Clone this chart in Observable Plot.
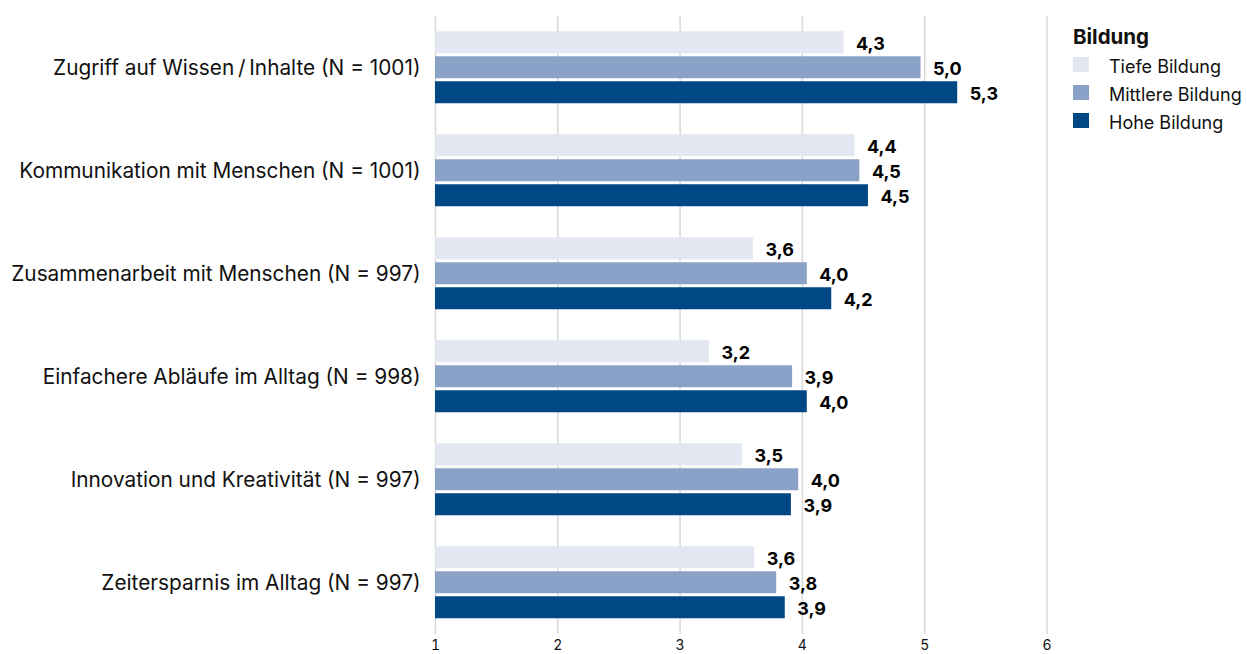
<!DOCTYPE html>
<html>
<head>
<meta charset="utf-8">
<script src="https://cdn.jsdelivr.net/npm/d3@7"></script>
<script src="https://cdn.jsdelivr.net/npm/@observablehq/plot@0.6"></script>
<style>
  body { margin: 0; background: #fff; font-family: Inter, "Liberation Sans", sans-serif; }
  #wrap { position: relative; width: 1247px; height: 654px; }
  #legend { position: absolute; left: 1073px; top: 25px; color: #111; }
  #legend .title { font-weight: 700; font-size: 20.5px; line-height: 24px; margin-bottom: 1.5px; }
  #legend .item { display: flex; align-items: center; height: 28.2px; font-size: 18px; }
  #legend .item span:last-child { position: relative; top: 1.5px; }
  #legend .sw { width: 16px; height: 15px; margin-right: 20px; flex: none; }
  #chart svg [aria-label^="x-axis"] text { font-size: 14px; fill: #111; }
  #chart svg [aria-label^="fy-axis"] text { font-size: 20.8px; fill: #111; }
</style>
</head>
<body>
<div id="wrap">
  <div id="chart"></div>
  <div id="legend"></div>
</div>
<script>
// Wahrgenommener Nutzen nach Bildungsniveau (Mittelwerte, Skala 1–6)
const categories = [
  "Zugriff auf Wissen\u2009/\u2009Inhalte (N = 1001)",
  "Kommunikation mit Menschen (N = 1001)",
  "Zusammenarbeit mit Menschen (N = 997)",
  "Einfachere Abläufe im Alltag (N = 998)",
  "Innovation und Kreativität (N = 997)",
  "Zeitersparnis im Alltag (N = 997)"
];
const levels = ["Tiefe Bildung", "Mittlere Bildung", "Hohe Bildung"];
const tiefe    = [4.34, 4.43, 3.60, 3.24, 3.51, 3.61];
const mittlere = [4.97, 4.47, 4.04, 3.92, 3.97, 3.79];
const hohe     = [5.27, 4.54, 4.24, 4.04, 3.91, 3.86];
const xTicks = [1, 2, 3, 4, 5, 6];
const colors = ["#e3e7f1", "#8aa2c7", "#004884"];

const series = [tiefe, mittlere, hohe];
const rows = categories.flatMap((category, i) =>
  levels.map((level, j) => ({ category, level, value: series[j][i] }))
);

const fmt = v => v.toFixed(1).replace(".", ",");

const chart = Plot.plot({
  width: 1247,
  height: 654,
  marginLeft: 435,
  marginRight: 200.5,
  marginTop: 14.75,
  marginBottom: 18,
  style: { fontFamily: "Inter, 'Liberation Sans', sans-serif", color: "#111", background: "#fff" },
  facet: { data: rows, y: "category" },
  fy: { domain: categories, padding: 0, axis: "left", label: null, tickSize: 0, tickPadding: 15 },
  y: { domain: levels, axis: null, paddingInner: 0.137, paddingOuter: 0.598 },
  x: { domain: [1, 6], ticks: xTicks, tickFormat: d => String(d), tickSize: 0, tickPadding: 6, label: null },
  color: { domain: levels, range: colors },
  marks: [
    Plot.ruleX(xTicks, { x: d => d, stroke: "#d8d8d8", strokeWidth: 1.5 }),
    Plot.barX(rows, { x1: 1, x2: "value", y: "level", fill: "level" }),
    Plot.text(rows, {
      x: "value", y: "level", text: d => fmt(d.value),
      textAnchor: "start", dx: 12, dy: 1,
      fontWeight: "bold", fontSize: 18, fill: "#000"
    })
  ]
});
document.getElementById("chart").append(chart);

// Legende aus der Farbskala des Diagramms
const colorScale = chart.scale("color");
const legend = document.getElementById("legend");
const title = document.createElement("div");
title.className = "title";
title.textContent = "Bildung";
legend.append(title);
colorScale.domain.forEach((d, i) => {
  const item = document.createElement("div");
  item.className = "item";
  const sw = document.createElement("span");
  sw.className = "sw";
  sw.style.background = colorScale.range[i];
  const label = document.createElement("span");
  label.textContent = d;
  item.append(sw, label);
  legend.append(item);
});
</script>
</body>
</html>
